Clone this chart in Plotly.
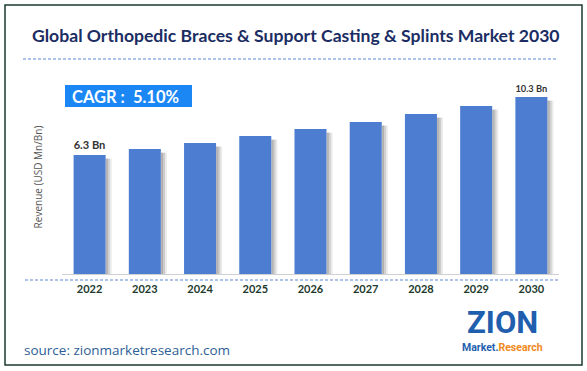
import plotly.graph_objects as go

years = ["2022", "2023", "2024", "2025", "2026", "2027", "2028", "2029", "2030"]
revenue = [6.3, 6.71, 7.13, 7.61, 8.09, 8.58, 9.13, 9.68, 10.3]
bar_labels = ["6.3 Bn", "", "", "", "", "", "", "", "10.3 Bn"]
title_text = "Global Orthopedic Braces & Support Casting & Splints Market 2030"
cagr_text = "CAGR :  5.10%"
source_text = "source: zionmarketresearch.com"

W, H = 587, 371
L, R, T, B = 62, 559, 80, 274
Y_MIN, Y_MAX = -1.907, 11.47

def px(x):
    return (x - L) / (R - L)

def py(y):
    return (B - y) / (B - T)

BAR_W = 0.58
fig = go.Figure()
# soft shadow to the right of each bar
for alpha, dx in [(0.45, 0.0), (0.28, 0.035), (0.12, 0.07)]:
    fig.add_trace(go.Bar(
        x=years, y=[v - Y_MIN - 0.25 for v in revenue], base=Y_MIN,
        width=0.04, offset=BAR_W / 2 + dx,
        marker=dict(color=f"rgba(90,90,90,{alpha})", line=dict(width=0)),
        hoverinfo="skip", showlegend=False))
fig.add_trace(go.Bar(
    x=years, y=[v - Y_MIN for v in revenue], base=Y_MIN,
    width=BAR_W, offset=-BAR_W / 2,
    marker=dict(color="#4d7dd1", line=dict(width=0)),
    text=[f"<b>{t}</b>" if t else "" for t in bar_labels],
    textposition="outside", cliponaxis=False,
    textfont=dict(family="Lato", size=12, color="#333333"),
    showlegend=False))

fig.update_layout(
    width=W, height=H,
    margin=dict(l=L, r=W - R, t=T, b=H - B, autoexpand=False),
    paper_bgcolor="white", plot_bgcolor="white",
    barmode="overlay",
    xaxis=dict(showgrid=False, showline=True, linecolor="#d0d0d0", linewidth=1,
               ticks="", ticklabelstandoff=5, automargin=False,
               tickfont=dict(family="Lato", size=11, color="#1c3a2c", weight="bold")),
    yaxis=dict(range=[Y_MIN, Y_MAX], showgrid=False, showticklabels=False,
               zeroline=False, showline=False, automargin=False,
               title=dict(text="Revenue (USD Mn/Bn)", standoff=16,
                          font=dict(family="Open Sans", size=10, color="#555555"))),
)

shapes = []
shapes.append(dict(type="rect", xref="paper", yref="paper",
                   x0=px(5), x1=px(582), y0=py(365), y1=py(5),
                   line=dict(color="#1d3b2f", width=1.5), layer="below"))
shapes.append(dict(type="line", xref="paper", yref="paper",
                   x0=px(23), x1=px(556), y0=py(59), y1=py(59),
                   line=dict(color="#5b87d6", width=1, dash="3px,2px")))
shapes.append(dict(type="line", xref="paper", yref="paper",
                   x0=px(25), x1=px(558), y0=py(280), y1=py(280),
                   line=dict(color="#5b87d6", width=1, dash="3px,2px")))
shapes.append(dict(type="rect", xref="paper", yref="paper",
                   x0=px(65), x1=px(192), y0=py(107), y1=py(85),
                   line=dict(width=0), fillcolor="#1a87f5"))
fig.update_layout(shapes=shapes)

ann = []
ann.append(dict(text=f"<b>{title_text}</b>", xref="paper", yref="paper",
                x=px(296), y=py(36), showarrow=False, xanchor="center", yanchor="middle",
                font=dict(family="Lato", size=17.6, color="#1b2d63")))
ann.append(dict(text=f"<b>{cagr_text}</b>", xref="paper", yref="paper",
                x=px(70), y=py(96.5), showarrow=False, xanchor="left", yanchor="middle",
                font=dict(family="Lato", size=16.5, color="white")))
ann.append(dict(text=source_text, xref="paper", yref="paper",
                x=px(22), y=py(350), showarrow=False, xanchor="left", yanchor="middle",
                font=dict(family="Open Sans", size=13.5, color="#2e5e96")))
ann.append(dict(text="<b>ZION</b>", xref="paper", yref="paper",
                x=px(502), y=py(322), showarrow=False, xanchor="center", yanchor="middle",
                font=dict(family="Roboto", size=31, color="#1f5fae")))
ann.append(dict(text="<b><span style='color:#1f5fae'>Market.</span><span style='color:#f08a1c'>Research</span></b>",
                xref="paper", yref="paper",
                x=px(502), y=py(347), showarrow=False, xanchor="center", yanchor="middle",
                font=dict(family="Roboto", size=10.5, color="#1f5fae")))
fig.update_layout(annotations=ann)

fig.write_html("out.html", config={"displayModeBar": False},
               post_script="document.body.style.margin='0';document.body.style.padding='0';")
